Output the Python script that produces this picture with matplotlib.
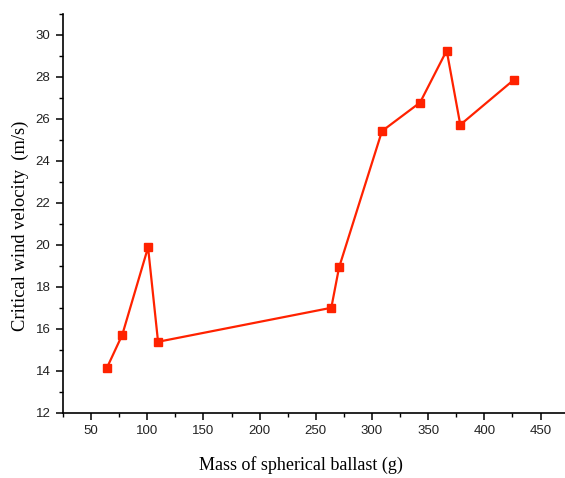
import matplotlib.pyplot as plt
from matplotlib.ticker import MultipleLocator

# ballast mass (g) and critical wind velocity (m/s)
mass = [64.2, 77.8, 100.7, 109.6, 263.8, 270.7, 308.9, 342.8, 366.5, 378.6, 426.4]
velocity = [14.15, 15.72, 19.88, 15.38, 17.0, 18.92, 25.42, 26.78, 29.26, 25.72, 27.87]

fig = plt.figure(figsize=(5.65, 4.78), dpi=100)
ax = fig.add_axes([0.1115, 0.1366, 0.8885, 0.8341])

ax.plot(mass, velocity, color='#ff2200', lw=1.6, marker='s', ms=6.2,
        mec='#ff2200', mfc='#ff2200', clip_on=False)

ax.set_xlim(25, 471.8)
ax.set_ylim(12, 31)
ax.xaxis.set_major_locator(MultipleLocator(50))
ax.xaxis.set_minor_locator(MultipleLocator(25))
ax.yaxis.set_major_locator(MultipleLocator(2))
ax.yaxis.set_minor_locator(MultipleLocator(1))
ax.set_xticks([50, 100, 150, 200, 250, 300, 350, 400, 450])

for side in ('top', 'right'):
    ax.spines[side].set_visible(False)
for side in ('left', 'bottom'):
    ax.spines[side].set_linewidth(1.2)

ax.tick_params(which='major', length=5, width=1.1, labelsize=9.5,
               pad=4, direction='out', labelcolor='#222222')
ax.tick_params(which='minor', length=3, width=1.0, direction='out')
for lab in ax.get_xticklabels() + ax.get_yticklabels():
    lab.set_family('Liberation Sans')

ax.set_xlabel('Mass of spherical ballast (g)', family='Liberation Serif',
              fontsize=13)
ax.set_ylabel('Critical wind velocity  (m/s)', family='Liberation Serif',
              fontsize=13.3)
ax.xaxis.set_label_coords(0.473, -0.11)
ax.yaxis.set_label_coords(-0.067, 0.468)

fig.savefig('out.png', dpi=100)
